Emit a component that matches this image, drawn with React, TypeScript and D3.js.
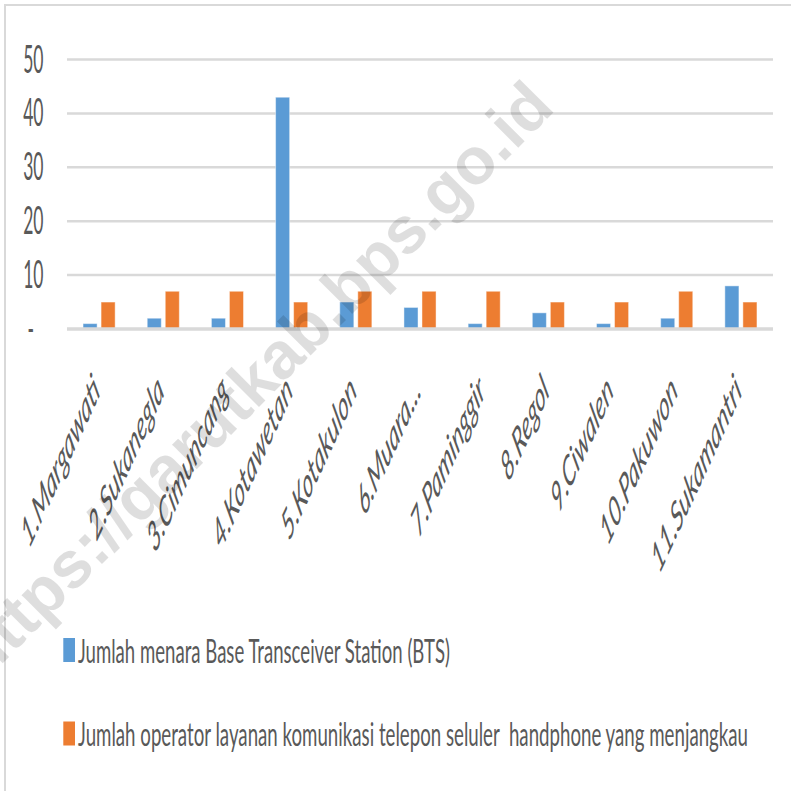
import React, { useLayoutEffect, useRef, useState } from "react";
import * as d3 from "d3";

const categories = [
  "1.Margawati",
  "2.Sukanegla",
  "3.Cimuncang",
  "4.Kotawetan",
  "5.Kotakulon",
  "6.Muara...",
  "7.Paminggir",
  "8.Regol",
  "9.Ciwalen",
  "10.Pakuwon",
  "11.Sukamantri",
];
const btsValues = [1, 2, 2, 43, 5, 4, 1, 3, 1, 2, 8];
const operatorValues = [5, 7, 7, 5, 7, 7, 7, 5, 5, 7, 5];
const seriesNames = [
  "Jumlah menara Base Transceiver Station (BTS)",
  "Jumlah operator layanan komunikasi telepon seluler  handphone yang menjangkau",
];
const seriesKeys = ["bts", "op"];
const seriesColors = ["#5b9bd5", "#ed7d31"];
const yTicks = [0, 10, 20, 30, 40, 50];
const watermark = "https://garutkab.bps.go.id";

const W = 791;
const H = 791;
const TEXT = "#595959";
const GRID = "#d9d9d9";

export default function App() {
  const x0 = d3
    .scaleBand<string>()
    .domain(categories)
    .range([67, 773])
    .paddingInner(0.5)
    .paddingOuter(0.25);
  const x1 = d3
    .scaleBand<string>()
    .domain(seriesKeys)
    .range([0, x0.bandwidth()])
    .paddingInner(0.22);
  const y = d3.scaleLinear().domain([0, 50]).range([329, 59.5]);

  const rows = categories.map((c, i) => ({
    cat: c,
    bts: btsValues[i],
    op: operatorValues[i],
  }));

  const legendWidths = [372, 670];
  const legendRefs = useRef<(SVGTextElement | null)[]>([]);
  const [legendScales, setLegendScales] = useState<number[]>([0.53, 0.53]);

  useLayoutEffect(() => {
    const s = legendRefs.current.map((el, i) => {
      if (!el) return 0.53;
      const len = el.getComputedTextLength();
      return len > 0 ? legendWidths[i] / len : 0.53;
    });
    setLegendScales(s);
  }, []);

  return (
    <svg
      width={W}
      height={H}
      style={{ position: "absolute", left: 0, top: 0, background: "#fff" }}
    >
      <rect x={0} y={0} width={W} height={H} fill="#fff" />
      {/* border */}
      <line x1={5} y1={5} x2={W} y2={5} stroke={GRID} strokeWidth={2} />
      <line x1={5} y1={4} x2={5} y2={H} stroke={GRID} strokeWidth={2} />

      {/* gridlines */}
      {yTicks
        .filter((t) => t !== 0)
        .map((t) => (
          <line
            key={t}
            x1={67}
            x2={773}
            y1={y(t)}
            y2={y(t)}
            stroke={GRID}
            strokeWidth={2.5}
          />
        ))}

      {/* y tick labels */}
      {yTicks.map((t) => (
        <text
          key={"yt" + t}
          transform={`translate(${t === 0 ? 34 : 43.5},${y(t) + 13}) scale(0.45,1)`}
          textAnchor="end"
          fontFamily="Lato"
          fontSize={39}
          fill={TEXT}
        >
          {t === 0 ? "-" : String(t)}
        </text>
      ))}

      {/* bars */}
      {rows.map((r) => (
        <g key={r.cat} transform={`translate(${x0(r.cat)},0)`}>
          {seriesKeys.map((k, si) => {
            const v = (r as any)[k] as number;
            return (
              <rect
                key={k}
                x={x1(k)}
                y={y(v)}
                width={x1.bandwidth()}
                height={y(0) - y(v)}
                fill={seriesColors[si]}
                stroke="#ffffff"
                strokeOpacity={0.45}
                strokeWidth={1}
              />
            );
          })}
        </g>
      ))}

      {/* baseline */}
      <line
        x1={67}
        x2={773}
        y1={y(0)}
        y2={y(0)}
        stroke={GRID}
        strokeWidth={3.5}
      />

      {/* category labels */}
      {categories.map((c) => {
        const cx = (x0(c) as number) + x0.bandwidth() / 2;
        return (
          <text
            key={"lbl" + c}
            transform={`translate(${cx + 2},393) scale(0.46,1) rotate(-45)`}
            textAnchor="end"
            fontFamily="Lato"
            fontStyle="italic"
            fontSize={42}
            fill={TEXT}
          >
            {c}
          </text>
        );
      })}

      {/* legend */}
      {seriesNames.map((n, i) => {
        const top = i === 0 ? 638 : 721.5;
        return (
          <g key={"lg" + i}>
            <rect x={63.3} y={top} width={11.7} height={24} fill={seriesColors[i]} />
            <text
              ref={(el) => {
                legendRefs.current[i] = el;
              }}
              transform={`translate(78,${top + 24.5}) scale(${legendScales[i]},1)`}
              fontFamily="Lato"
              fontSize={32}
              fill={TEXT}
              style={{ whiteSpace: "pre" }}
            >
              {n}
            </text>
          </g>
        );
      })}

      {/* watermark */}
      <text
        transform="translate(270,396) rotate(-45)"
        textAnchor="middle"
        fontFamily="Liberation Sans"
        fontWeight="bold"
        fontSize={66}
        fill="#000"
        fillOpacity={0.13}
      >
        {watermark}
      </text>
    </svg>
  );
}
